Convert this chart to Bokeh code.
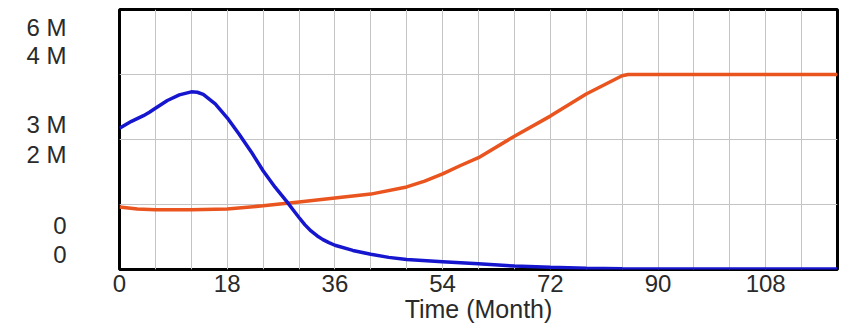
from bokeh.plotting import figure
from bokeh.models import Range1d, FixedTicker, LinearAxis
from bokeh.embed import file_html
from bokeh.resources import INLINE

# ---- data (months, values) ----
blue_t = [0, 2, 4, 5, 6, 8, 10, 12, 13, 14, 16, 18, 20, 22, 24, 26, 28, 29, 30, 31, 32, 33, 34,
          35, 36, 39, 42, 45, 48, 54, 60, 66, 72, 78, 84, 90, 96, 102, 108, 114, 120]
blue_v = [3.26e6, 3.42e6, 3.55e6, 3.63e6, 3.72e6, 3.90e6, 4.03e6, 4.10e6, 4.09e6, 4.04e6, 3.82e6,
          3.50e6, 3.12e6, 2.72e6, 2.28e6, 1.90e6, 1.56e6, 1.38e6, 1.20e6, 1.03e6, 0.89e6, 0.78e6,
          0.69e6, 0.62e6, 0.56e6, 0.44e6, 0.35e6, 0.28e6, 0.23e6, 0.18e6, 0.13e6, 0.08e6, 0.05e6,
          0.03e6, 0.02e6, 0.012e6, 0.01e6, 0.01e6, 0.01e6, 0.01e6, 0.01e6]

orange_t = [0, 3, 6, 12, 18, 24, 30, 36, 42, 48, 51, 54, 57, 60, 66, 72, 78, 84, 85, 90, 96, 102,
            108, 114, 120]
orange_v = [0.96e6, 0.93e6, 0.92e6, 0.92e6, 0.93e6, 0.98e6, 1.04e6, 1.10e6, 1.16e6, 1.27e6,
            1.36e6, 1.47e6, 1.60e6, 1.72e6, 2.05e6, 2.36e6, 2.70e6, 2.98e6, 3.0e6, 3.0e6, 3.0e6,
            3.0e6, 3.0e6, 3.0e6, 3.0e6]

x_ticks = [0, 18, 36, 54, 72, 90, 108]
x_grid = list(range(0, 121, 6))
blue_max, orange_max = 6e6, 4e6
# Vensim-style stacked scale labels (blue scale / orange scale at top, middle, bottom)
y_label_texts = ["6 M", "4 M", "3 M", "2 M", "0", "0"]
y_label_slots = [240, 212, 144, 114, 44, 15]   # slot positions on a 0..258 label scale

BLUE = "#1616cf"
ORANGE = "#ea541e"
TXT = "#2a2a2a"
FONT = "Liberation Sans"

p = figure(width=839, height=325, output_backend="svg", toolbar_location=None,
           x_range=Range1d(0, 120), y_range=Range1d(0, blue_max), y_axis_location=None,
           min_border_left=119, min_border_right=2, min_border_top=9, min_border_bottom=0)
p.extra_y_ranges = {"orange": Range1d(0, orange_max), "lab": Range1d(0, 258)}

p.background_fill_color = "white"
p.border_fill_color = "white"
p.outline_line_color = "black"
p.outline_line_width = 3

# grid
p.xgrid.ticker = FixedTicker(ticks=x_grid)
p.ygrid.ticker = FixedTicker(ticks=[0, blue_max * 0.25, blue_max * 0.5, blue_max * 0.75, blue_max])
p.xgrid.grid_line_color = "#c4c4c4"
p.ygrid.grid_line_color = "#c4c4c4"

# x axis
xa = p.xaxis[0]
xa.ticker = FixedTicker(ticks=x_ticks)
xa.axis_line_color = None
xa.major_tick_line_color = None
xa.minor_tick_line_color = None
xa.major_tick_out = 0
xa.major_label_text_font = FONT
xa.major_label_text_font_size = "24px"
xa.major_label_text_color = TXT
xa.major_label_standoff = 5
xa.axis_label = "Time (Month)"
xa.axis_label_text_font = FONT
xa.axis_label_text_font_size = "25px"
xa.axis_label_text_font_style = "normal"
xa.axis_label_text_color = TXT
xa.axis_label_standoff = 0

# left scale labels
ya = LinearAxis(y_range_name="lab", ticker=FixedTicker(ticks=y_label_slots),
                major_label_overrides={s: t for s, t in zip(y_label_slots, y_label_texts)})
ya.axis_line_color = None
ya.major_tick_line_color = None
ya.minor_tick_line_color = None
ya.major_tick_out = 0
ya.major_tick_in = 0
ya.major_label_standoff = 53
ya.major_label_text_font = FONT
ya.major_label_text_font_size = "24px"
ya.major_label_text_color = TXT
p.add_layout(ya, "left")

# lines
p.line(orange_t, orange_v, line_color=ORANGE, line_width=3.5, y_range_name="orange")
p.line(blue_t, blue_v, line_color=BLUE, line_width=3.5)

open("out.html", "w").write(file_html(p, INLINE))
